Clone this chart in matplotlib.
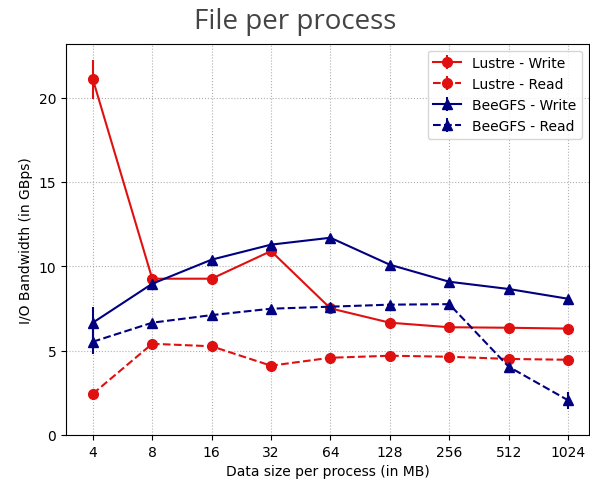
import matplotlib
matplotlib.use('Agg')
import matplotlib.pyplot as plt

# Data sizes per process (MB) and measured bandwidth (GBps)
sizes = ['4', '8', '16', '32', '64', '128', '256', '512', '1024']
lustre_write = [21.1, 9.26, 9.26, 10.9, 7.5, 6.65, 6.38, 6.35, 6.3]
lustre_read = [2.43, 5.4, 5.25, 4.1, 4.57, 4.69, 4.63, 4.5, 4.45]
beegfs_write = [6.65, 8.96, 10.39, 11.28, 11.69, 10.09, 9.08, 8.65, 8.07]
beegfs_read = [5.52, 6.65, 7.1, 7.48, 7.6, 7.72, 7.75, 4.04, 2.05]
lustre_write_err = [1.15, 0.1, 0.1, 0.1, 0.1, 0.05, 0.05, 0.05, 0.05]
lustre_read_err = [0.05, 0.1, 0.05, 0.05, 0.05, 0.05, 0.05, 0.05, 0.05]
beegfs_write_err = [0.95, 0.1, 0.05, 0.05, 0.05, 0.05, 0.05, 0.05, 0.05]
beegfs_read_err = [0.75, 0.05, 0.05, 0.05, 0.05, 0.05, 0.05, 0.1, 0.5]

red = '#e01010'
navy = '#000080'
x = list(range(len(sizes)))

fig = plt.figure(figsize=(5.9, 4.81), dpi=100)
ax = fig.add_axes([0.112, 0.094, 0.886, 0.813])

ax.errorbar(x, lustre_write, yerr=lustre_write_err, color=red, marker='o',
            markersize=7, linewidth=1.5, label='Lustre - Write')
ax.errorbar(x, lustre_read, yerr=lustre_read_err, color=red, marker='o',
            markersize=7, linewidth=1.5, linestyle='--', label='Lustre - Read')
ax.errorbar(x, beegfs_write, yerr=beegfs_write_err, color=navy, marker='^',
            markersize=7, linewidth=1.5, label='BeeGFS - Write')
ax.errorbar(x, beegfs_read, yerr=beegfs_read_err, color=navy, marker='^',
            markersize=7, linewidth=1.5, linestyle='--', label='BeeGFS - Read')

ax.set_xticks(x)
ax.set_xticklabels(sizes)
ax.set_xlim(-0.45, 8.35)
ax.set_ylim(0, 23.2)
ax.set_yticks([0, 5, 10, 15, 20])
ax.grid(True, linestyle=':', color='#b0b0b0', linewidth=0.8)
ax.set_xlabel('Data size per process (in MB)', fontsize=10)
ax.set_ylabel('I/O Bandwidth (in GBps)', fontsize=10)
ax.tick_params(labelsize=10)
ax.legend(loc='upper right', fontsize=10, framealpha=0.8)

fig.text(0.5, 0.955, 'File per process', ha='center', va='center',
         fontsize=20, color='#444444', family='Open Sans')

fig.savefig('out.png', dpi=100)
